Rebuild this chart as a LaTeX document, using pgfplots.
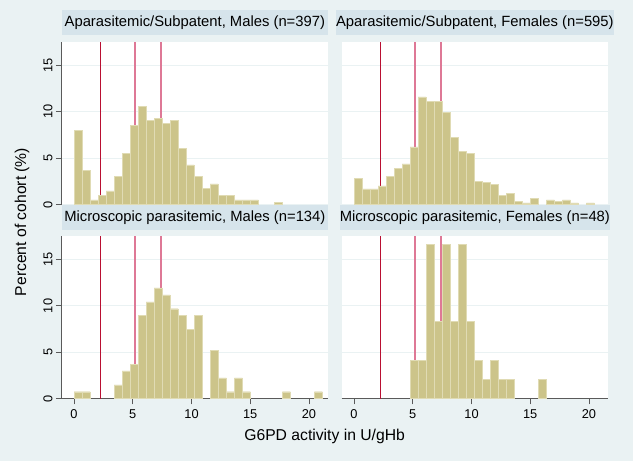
\documentclass[border=0pt]{standalone}
\usepackage{fontspec}
\setmainfont{Liberation Sans}
\usepackage{pgfplots}
\pgfplotsset{compat=1.18}
\definecolor{bgc}{RGB}{234,242,243}
\definecolor{stripc}{RGB}{214,228,235}
\definecolor{gridc}{RGB}{234,242,243}
\definecolor{barc}{RGB}{204,196,138}
\definecolor{baredge}{RGB}{224,219,180}
\definecolor{axisc}{RGB}{90,90,90}
\definecolor{redc}{RGB}{185,15,50}
\definecolor{pinkc}{RGB}{222,120,150}
\pgfplotsset{
  panel/.style={
    scale only axis, width=266.3pt, height=162.8pt, anchor=south west,
    xmin=-1.05, xmax=21.62, ymin=0, ymax=17.55,
    axis background/.style={fill=white},
    axis x line*=bottom, axis y line*=left,
    axis line style={axisc, line width=0.9pt},
    ytick={0,5,10,15}, xtick={0,5,10,15,20},
    ymajorgrids, grid style={gridc, line width=0.9pt},
    tick align=outside, major tick length=5.7pt,
    tick style={axisc, line width=0.9pt},
    /pgf/number format/assume math mode=true,
    ticklabel style={font=\fontsize{12.8}{14}\selectfont},
    xticklabel style={yshift=-2pt},
    yticklabel style={rotate=90, anchor=south},
    title style={at={(0.5,1)}, anchor=south, fill=stripc, minimum width=266.3pt,
      minimum height=25pt, inner sep=0pt, font=\fontsize{14.8}{16}\selectfont},
  },
  toprow/.style={x axis line style={draw=none}, xtick=\empty},
  rightcol/.style={y axis line style={draw=none}, yticklabels={}, ytick style={draw=none}},
  bars/.style={ybar, bar width=0.682, bar shift=0pt, fill=barc, draw=baredge, line width=0.4pt},
  refred/.style={redc, line width=0.9pt},
  refpink/.style={pinkc, line width=2pt},
}
\begin{document}
\begin{tikzpicture}
\useasboundingbox (0,0) rectangle (633pt,461pt);
\fill[bgc] (0,0) rectangle (633pt,461pt);

% Top-left
\begin{axis}[panel, toprow, at={(61.7pt,256.5pt)}, title={Aparasitemic/Subpatent, Males (n=397)}]
\addplot[refred] coordinates {(2.22,0) (2.22,17.55)};
\addplot[refpink] coordinates {(5.15,0) (5.15,17.55)};
\addplot[refpink] coordinates {(7.39,0) (7.39,17.55)};
\addplot[bars] coordinates {
(0.341,8.02) (1.023,3.70) (1.705,0.50) (2.387,1.00) (3.069,1.47) (3.751,3.00)
(4.433,5.50) (5.115,8.53) (5.797,10.60) (6.479,9.05) (7.161,9.32) (7.843,8.78)
(8.525,9.06) (9.207,6.02) (9.889,4.26) (10.571,3.00) (11.253,1.75) (11.935,2.22)
(12.617,1.00) (13.299,1.00) (13.981,0.50) (14.663,0.50) (15.345,0.50) (17.391,0.25)};
\end{axis}

% Top-right
\begin{axis}[panel, toprow, rightcol, at={(341.7pt,256.5pt)}, title={Aparasitemic/Subpatent, Females (n=595)}]
\addplot[refred] coordinates {(2.22,0) (2.22,17.55)};
\addplot[refpink] coordinates {(5.15,0) (5.15,17.55)};
\addplot[refpink] coordinates {(7.39,0) (7.39,17.55)};
\addplot[bars] coordinates {
(0.341,2.81) (1.023,1.68) (1.705,1.68) (2.387,2.02) (3.069,3.03) (3.751,3.87)
(4.433,4.37) (5.115,6.22) (5.797,11.60) (6.479,11.10) (7.161,11.10) (7.843,9.92)
(8.525,7.23) (9.207,5.71) (9.889,5.55) (10.571,2.52) (11.253,2.35) (11.935,2.18)
(12.617,1.01) (13.299,1.18) (13.981,0.34) (14.663,0.17) (15.345,0.67) (16.709,0.50)
(17.391,0.34) (18.073,0.50) (18.755,0.17) (20.119,0.17)};
\end{axis}

% Bottom-left
\begin{axis}[panel, at={(61.7pt,62.3pt)}, title={Microscopic parasitemic, Males (n=134)}]
\addplot[refred] coordinates {(2.22,0) (2.22,17.55)};
\addplot[refpink] coordinates {(5.15,0) (5.15,17.55)};
\addplot[refpink] coordinates {(7.39,0) (7.39,17.55)};
\addplot[bars] coordinates {
(0.341,0.75) (1.023,0.75) (3.751,1.49) (4.433,2.99) (5.115,3.73) (5.797,8.96)
(6.479,10.45) (7.161,11.94) (7.843,11.19) (8.525,9.70) (9.207,8.96) (9.889,7.46)
(10.571,8.96) (11.935,5.22) (12.617,2.24) (13.299,0.75) (13.981,2.24) (14.663,0.75)
(18.073,0.75) (20.801,0.75)};
\end{axis}

% Bottom-right
\begin{axis}[panel, rightcol, at={(341.7pt,62.3pt)}, title={Microscopic parasitemic, Females (n=48)}]
\addplot[refred] coordinates {(2.22,0) (2.22,17.55)};
\addplot[refpink] coordinates {(5.15,0) (5.15,17.55)};
\addplot[refpink] coordinates {(7.39,0) (7.39,17.55)};
\addplot[bars] coordinates {
(5.115,4.17) (5.797,4.17) (6.479,16.67) (7.161,8.33) (7.843,16.67) (8.525,8.33)
(9.207,16.67) (9.889,8.33) (10.571,4.17) (11.253,2.08) (11.935,4.17) (12.617,2.08)
(13.299,2.08) (16.027,2.08)};
\end{axis}

\node[font=\fontsize{15.7}{17}\selectfont] at (324.6pt,24.5pt) {G6PD activity in U/gHb};
\node[font=\fontsize{15.7}{17}\selectfont, rotate=90] at (22pt,239pt) {Percent of cohort (\%)};
\end{tikzpicture}
\end{document}
